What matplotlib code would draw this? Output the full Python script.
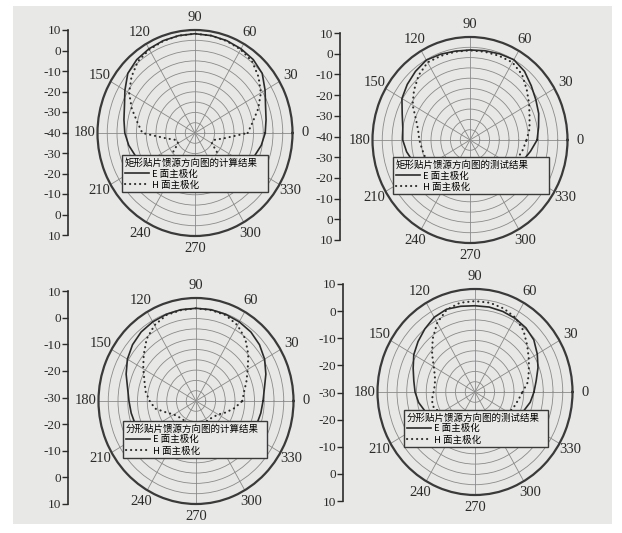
import matplotlib.pyplot as plt
import numpy as np
from matplotlib.patches import Rectangle

plt.rcParams['font.family'] = ['Liberation Serif', 'Noto Sans CJK SC', 'DejaVu Sans']

W, H = 622, 533
BG = '#e8e8e6'
INK = '#2b2b2b'

# sampling angles (degrees) shared by every curve
angles = np.arange(0, 360, 10)
grid_angles = np.arange(0, 360, 30)

# rectangular patch, computed
rect_calc_e = [-4, -3, -1.5, 1.5, 5, 6.5, 7.2, 7.7, 8, 8.2, 8, 7.7, 7.2, 6.5, 5, 1.5, -1.5, -3,
               -4, -5.5, -7.5, -10, -13, -16, -18, -20, -20, -20, -20, -20, -18, -16, -13, -10, -7.5, -5.5]
rect_calc_h = [-13, -10, -5.5, -1, 2.5, 5.5, 6.8, 7.5, 8, 8.2, 8, 7.5, 6.8, 5.5, 2.5, -1, -5.5, -10,
               -13, -25, -30, -30, -25, -22, -21, -20, -20, -20, -20, -20, -21, -22, -25, -30, -30, -25]
# rectangular patch, measured
rect_meas_e = [-5.6, -4.3, -2.5, -1, 1, 3.5, 5, 4.5, 4, 3.7, 3.8, 4.3, 4.8, 3.5, 2, 0.3, -3, -5,
               -5.5, -7, -9, -12, -15, -17, -18, -19, -19, -19, -19, -19, -18, -17, -15, -13, -11, -8.5]
rect_meas_h = [-11, -9, -7.5, -5, -2, 1.5, 3.5, 3.5, 3.5, 3.5, 3.5, 3.5, 3.5, 1, -2.5, -6, -10.5, -13,
               -14, -15, -15.5, -17, -19, -20, -21, -21, -21, -21, -21, -21, -21, -20, -18, -16, -14, -12.5]
# fractal patch, computed
frac_calc_e = [-2.5, -1.5, 0.5, 2.5, 4, 5, 5.5, 5.8, 6, 6, 6, 5.8, 5.5, 5, 4, 2.5, 0.5, -1.5,
               -2.5, -3, -3.5, -5, -7, -9, -11, -12, -12.5, -12.5, -12.5, -12, -11, -9, -7, -5, -3.5, -3]
frac_calc_h = [-11, -10, -8, -5.5, -2, 1.5, 4, 5.5, 5.8, 6, 5.8, 5.5, 4, 1.5, -2, -5, -7.5, -9,
               -11, -13, -17, -19.5, -20.5, -21, -21, -21, -21, -21, -21, -21, -21, -21, -20.5, -19.5, -17, -14]
# fractal patch, measured
frac_meas_e = [-5.8, -4.5, -2.5, -0.5, 1.5, 2.5, 3, 3.3, 3.5, 3.5, 3.8, 4.2, 3.5, 2, 0.5, -1, -3, -4.5,
               -5.4, -6.5, -8.2, -10, -12, -14, -15, -15, -15, -15, -15, -15, -14, -14, -12, -10, -8.7, -7]
frac_meas_h = [-10.5, -8, -6.5, -4.5, -2, 1, 3.3, 4.5, 5.2, 5.3, 5.2, 4, 1, -3, -7, -10.5, -12.5, -13.3,
               -13, -12, -12, -14, -15, -16, -16, -16, -16, -16, -16, -16, -16, -15, -14, -14, -13, -12]

scale_40 = ['10', '0', '-10', '-20', '-30', '-40', '-30', '-20', '-10', '0', '10']
scale_30 = ['10', '0', '-10', '-20', '-30', '-20', '-10', '0', '10']

titles = ['矩形贴片馈源方向图的计算结果', '矩形贴片馈源方向图的测试结果',
          '分形贴片馈源方向图的计算结果', '分形贴片馈源方向图的测试结果']
series_names = ['E 面主极化', 'H 面主极化']

# (polar box, legend box, scale box) in pixels: x0, y0, x1, y1
panels = [
    (rect_calc_e, rect_calc_h, -40, scale_40, (97.5, 30, 292.5, 236), (122, 155, 268, 200), (68, 30, 235)),
    (rect_meas_e, rect_meas_h, -40, scale_40, (372.5, 37, 567.5, 243), (393, 157, 549, 200), (340, 33, 240)),
    (frac_calc_e, frac_calc_h, -30, scale_30, (98.5, 298, 293.5, 504), (123, 421, 267, 465), (68, 291, 504)),
    (frac_meas_e, frac_meas_h, -30, scale_30, (377.5, 289, 572.5, 495), (404, 410, 548, 452), (343, 284, 501)),
]


def fig_rect(x0, y0, x1, y1):
    return [x0 / W, 1 - y1 / H, (x1 - x0) / W, (y1 - y0) / H]


fig = plt.figure(figsize=(W / 100, H / 100), dpi=100, facecolor='white')
fig.patches.append(Rectangle((13 / W, 1 - 524 / H), 599 / W, 518 / H, transform=fig.transFigure,
                             facecolor=BG, edgecolor='none', zorder=-10))

for (e_db, h_db, rmin, scale, pbox, lbox, sbox), title in zip(panels, titles):
    ax = fig.add_axes(fig_rect(*pbox), projection='polar')
    ax.set_aspect('auto')
    ax.set_facecolor('none')

    th = np.deg2rad(np.append(angles, 360))
    ax.plot(th, np.append(e_db, e_db[0]), color=INK, lw=1.2, label=series_names[0])
    ax.plot(th, np.append(h_db, h_db[0]), color=INK, lw=1.5, ls=(0, (0.1, 2.3)),
            dash_capstyle='round', label=series_names[1])

    ax.set_ylim(rmin, 10)
    ax.set_yticks(np.linspace(rmin, 10, 11)[1:-1])
    ax.set_yticklabels([])
    ax.set_thetagrids(grid_angles, labels=[str(a) for a in grid_angles])
    ax.tick_params(axis='x', pad=-1.5, labelsize=10.5, colors=INK)
    ax.grid(color='#8a8a8a', lw=0.6)
    ax.spines['polar'].set_color('#3a3a3a')
    ax.spines['polar'].set_linewidth(1.6)

    # legend box sits over the lower part of the patterns
    px0, py0, px1, py1 = pbox
    lx0, ly0, lx1, ly1 = lbox
    bx = (lx0 - px0) / (px1 - px0)
    by = (py1 - ly1) / (py1 - py0)
    bw = (lx1 - lx0) / (px1 - px0)
    bh = (ly1 - ly0) / (py1 - py0)
    leg = ax.legend(loc='upper left', bbox_to_anchor=(bx, by, bw, bh), mode='expand', borderaxespad=0,
                    title=title, alignment='left', frameon=True, fancybox=False, framealpha=1,
                    facecolor=BG, edgecolor='#3a3a3a', handlelength=2.6, handletextpad=0.3,
                    labelspacing=0.2, borderpad=0.3,
                    prop={'family': ['Noto Sans CJK SC', 'DejaVu Sans'], 'size': 6.8})
    leg.get_title().set_fontfamily(['Noto Sans CJK SC', 'DejaVu Sans'])
    leg.get_title().set_fontsize(6.8)
    leg.get_frame().set_linewidth(1.0)

    # the dB scale drawn beside each pattern
    sx, sy0, sy1 = sbox
    sax = fig.add_axes(fig_rect(sx, sy0, sx + 1, sy1))
    sax.set_facecolor('none')
    for side in ['top', 'right', 'bottom']:
        sax.spines[side].set_visible(False)
    sax.spines['left'].set_color(INK)
    sax.spines['left'].set_linewidth(1.2)
    sax.set_xticks([])
    sax.set_ylim(0, len(scale) - 1)
    sax.set_yticks(range(len(scale)))
    sax.set_yticklabels(scale[::-1])
    sax.tick_params(axis='y', length=4, width=1, pad=1, labelsize=9.5, colors=INK)

fig.savefig('out.png', dpi=100, facecolor='white')
